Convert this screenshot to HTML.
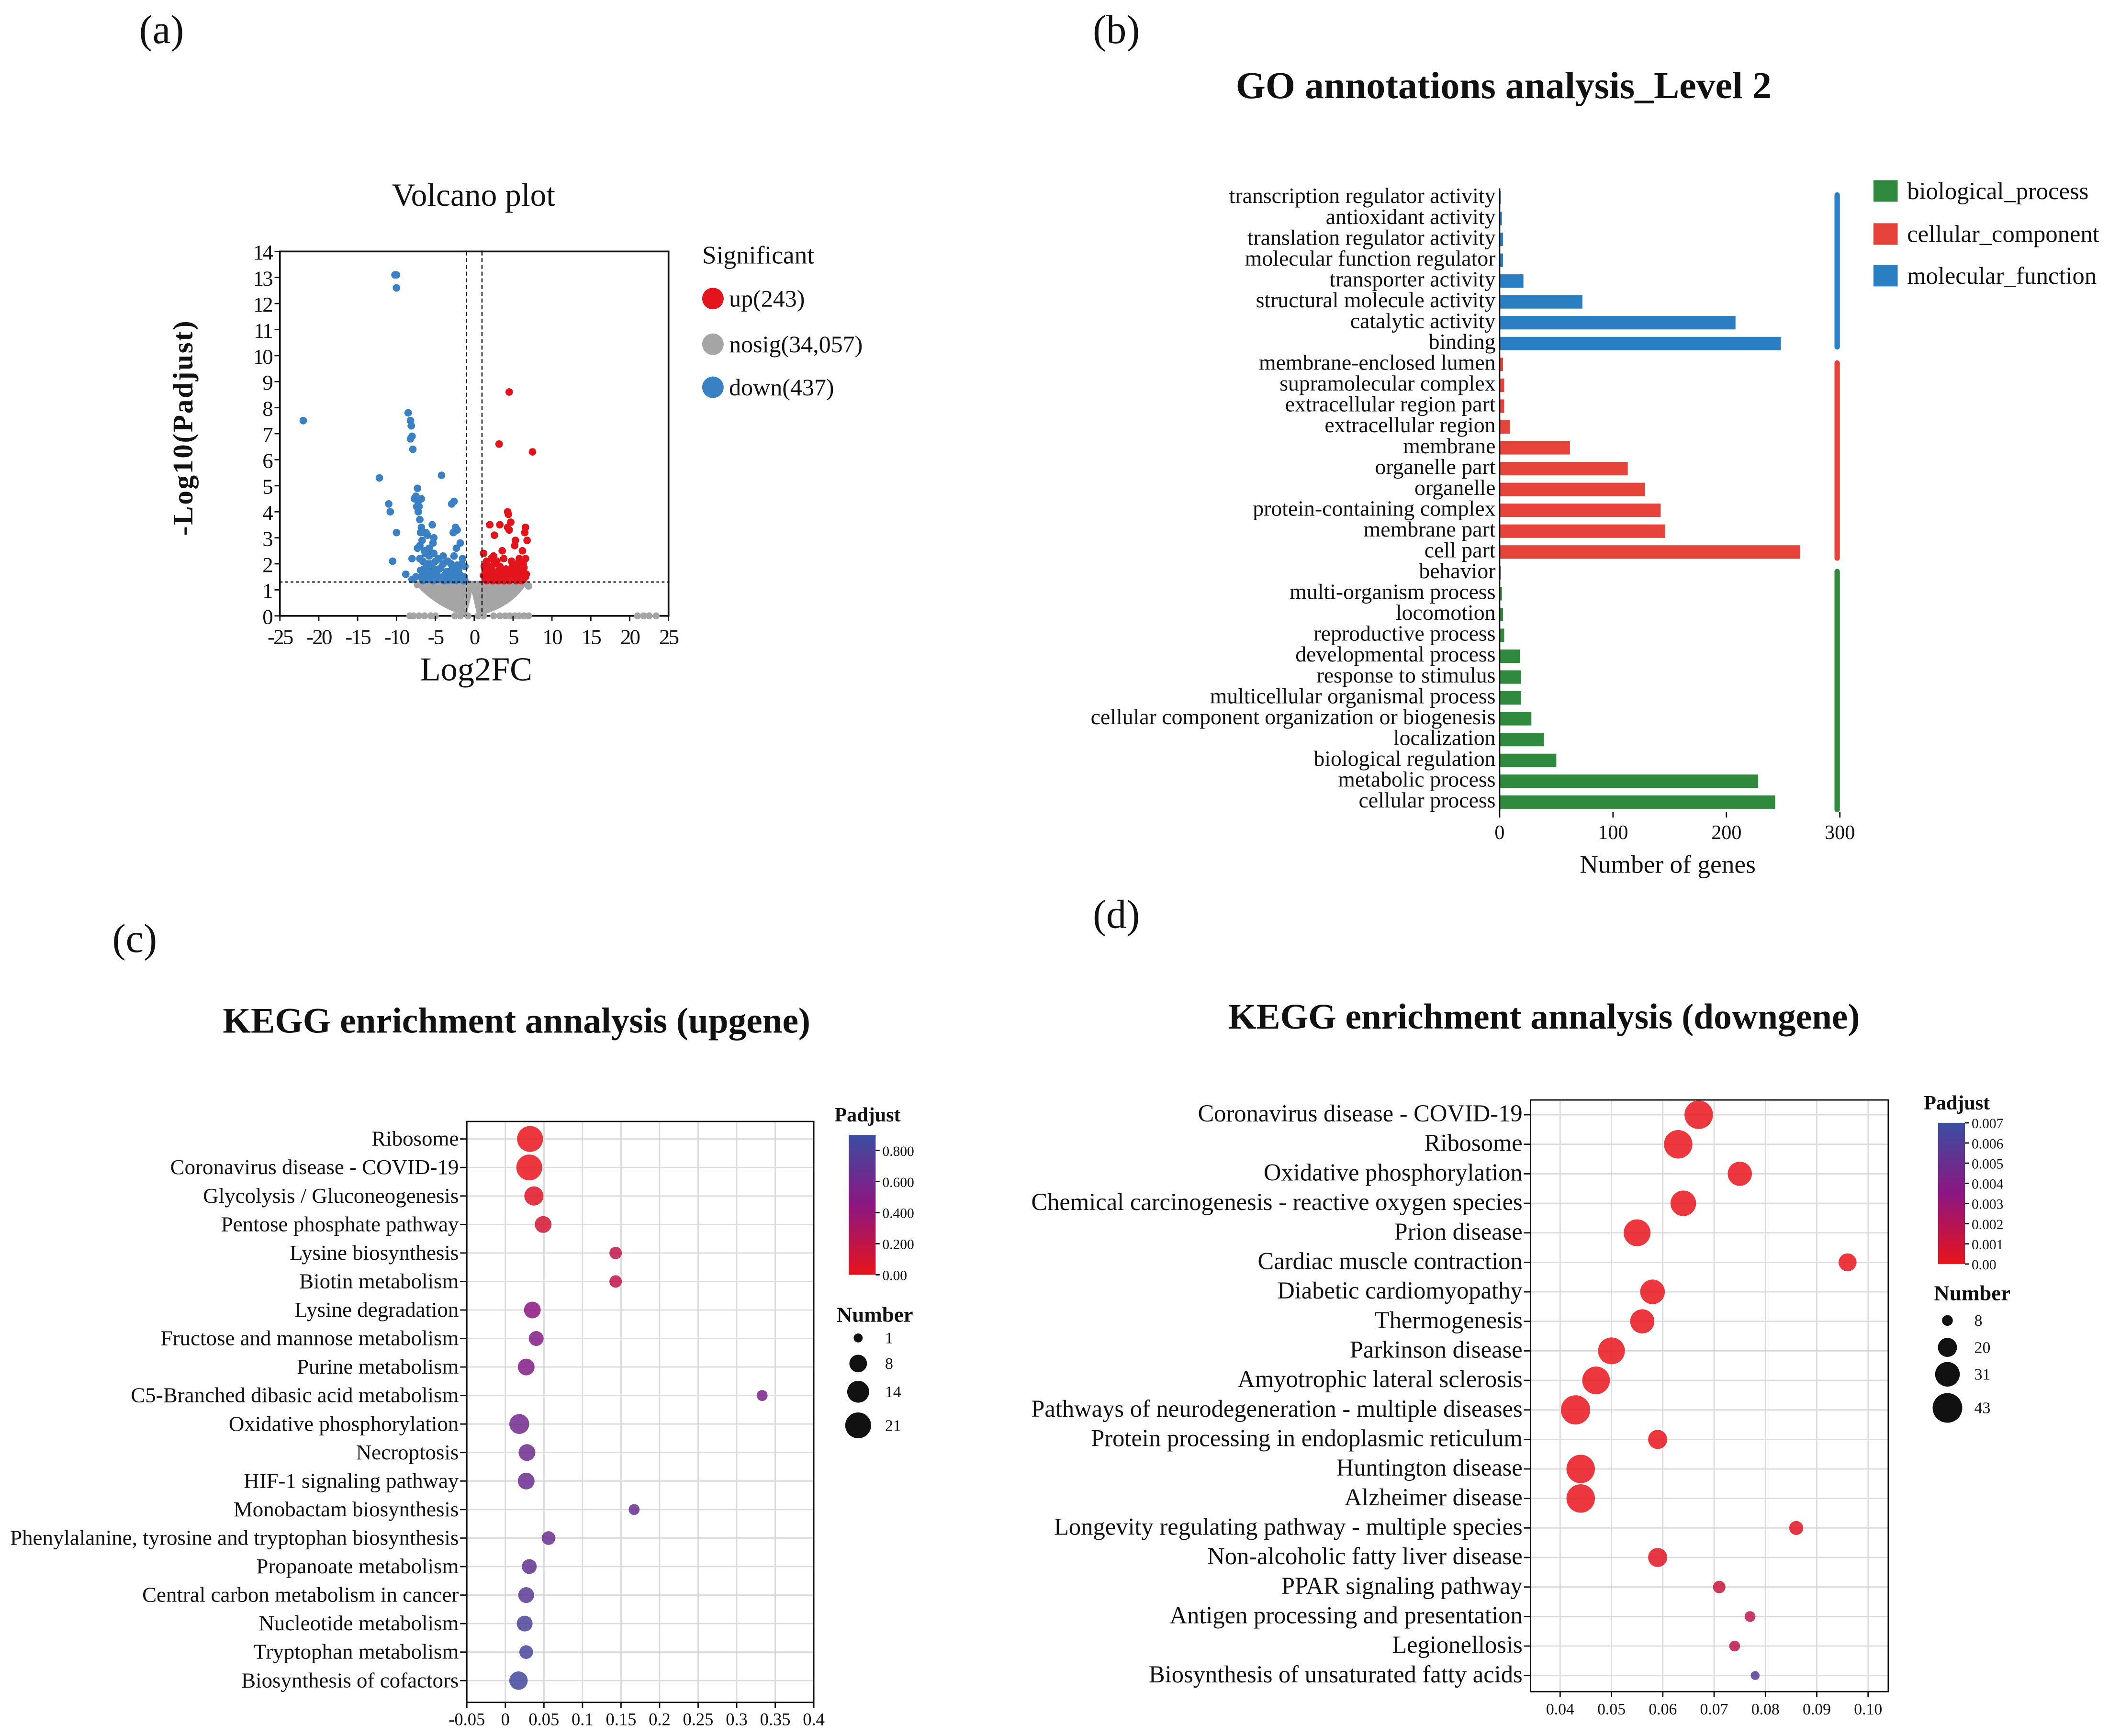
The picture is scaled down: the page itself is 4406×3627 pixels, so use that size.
<!DOCTYPE html>
<html><head><meta charset="utf-8"><style>
html,body{margin:0;padding:0;background:#fff;}
svg{display:block;}
text{font-family:"Liberation Serif",serif;fill:#111;}
</style></head><body>
<svg id="fig" width="4406" height="3627" viewBox="0 0 1568 1291" xmlns="http://www.w3.org/2000/svg">
<rect width="1568" height="1291" fill="#fff"/>
<text x="120" y="32" font-size="30" text-anchor="middle">(a)</text>
<text x="830" y="32" font-size="30" text-anchor="middle">(b)</text>
<text x="100" y="708" font-size="30" text-anchor="middle">(c)</text>
<text x="830" y="690" font-size="30" text-anchor="middle">(d)</text>
<g id="va"></g>
<g id="gb"></g>
<g id="kc"></g>
<g id="kd"></g>
</svg>
<script>
const NS="http://www.w3.org/2000/svg";
function mk(parent,tag,attrs,txt){const e=document.createElementNS(NS,tag);for(const k in attrs)e.setAttribute(k,attrs[k]);if(txt!==undefined)e.textContent=txt;parent.appendChild(e);return e;}

/* ---------- Volcano data ---------- */
const downX=[-10.2,-10,-10,-22,-8.5,-8.2,-8.1,-8,-8.2,-7.9,-12.2,-4.2,-7.3,-7.5,-7.7,-6.8,-7.2,-11,-10.8,-2.6,-2.9,-7.4,-7.1,-7.2,-7,-6.8,-5.4,-6.9,-6.5,-6.2,-6,-2.4,-2.7,-2.2,-10,-5.2,-6.7,-5.3,-7.3,-1.8,-5.8,-2.3,-6.3,-7,-2.6,-4,-10.5,-8,-6,-5,-3,-1.5,-1.2,-6.5,-5.5,-4.5,-3.5,-2,-7.5,-8.8,-8,-6.8,-6,-5,-4,-3,-2.2,-1.5,-7,-6.4,-5.8,-5.2,-4.6,-4,-3.4,-2.8,-2.2,-1.6,-6.6,-6.1,-5.6,-5.1,-4.3,-3.7,-3.1,-2.5,-1.9,-1.3,-6.9,-6.3,-5.5,-4.8,-4.2,-3.6,-2.9,-2.4,-1.7,-1.2,-6.6,-5.9,-5.3,-4.7,-3.9,-3.3,-2.6,-2.0,-1.4];
const downY=[13.1,13.1,12.6,7.5,7.8,7.5,7.3,6.9,6.8,6.4,5.3,5.4,4.9,4.6,4.5,4.5,4.4,4.3,4.0,4.4,4.3,4.2,4.2,4.0,3.7,3.4,3.5,3.2,3.2,3.2,3.1,3.4,3.2,3.3,3.2,3.0,2.9,2.8,2.6,2.8,2.6,2.6,2.4,2.2,2.3,2.3,2.1,2.2,2.0,2.1,2.0,2.2,1.9,1.8,1.7,1.8,1.7,1.8,1.5,1.6,1.4,1.5,1.4,1.45,1.5,1.45,1.5,1.4,2.7,2.5,2.3,2.4,2.2,2.0,2.1,1.9,1.95,2.0,2.1,1.9,2.0,1.8,1.85,1.6,1.7,1.65,1.6,1.5,1.75,1.65,1.55,1.6,1.45,1.55,1.4,1.35,1.45,1.35,1.35,1.4,1.35,1.4,1.35,1.38,1.36,1.4,1.35];
const upX=[4.5,3.2,7.5,4.3,4.4,4.7,2,3.3,4.3,6.6,2.6,4.5,6.5,5.3,6.8,5.2,1.2,3.6,6.2,2.5,5.8,6.6,1.6,2.2,2.9,3.8,4.8,5.5,6.3,1.3,1.9,2.6,3.3,4.1,4.9,5.6,6.4,1.5,2.3,3.0,3.7,4.4,5.2,5.9,6.7,1.2,1.8,2.5,3.2,3.9,4.6,5.3,6.0,6.6,1.4,2.1,2.8,3.5,4.2,5.0,5.7,6.3,1.6,2.4,3.1,3.8,4.5,5.4,6.1];
const upY=[8.6,6.6,6.3,4.0,3.9,3.6,3.5,3.5,3.4,3.4,3.1,3.3,3.2,2.9,2.9,2.7,2.4,2.5,2.5,2.3,2.2,2.2,2.1,2.2,2.1,2.2,2.1,2.0,2.0,1.9,1.9,2.0,1.9,1.8,1.9,1.8,1.85,1.7,1.75,1.7,1.7,1.7,1.7,1.65,1.6,1.55,1.6,1.55,1.6,1.55,1.5,1.55,1.5,1.5,1.4,1.45,1.4,1.45,1.4,1.45,1.4,1.4,1.35,1.35,1.35,1.35,1.35,1.35,1.35];
const zeroX=[-8.3,-7.8,-7.1,-6.4,-5.6,-5,-2.5,-1.8,-0.8,0.5,1.2,2.5,3.3,4,4.6,5.2,5.8,6.4,7,21,21.8,22.5,23.4];
const volXTicks=[-25,-20,-15,-10,-5,0,5,10,15,20,25];
const volYTicks=[0,1,2,3,4,5,6,7,8,9,10,11,12,13,14];

(function(){
const g=document.getElementById('va');
const X0=208,X1=497,Y0=458,Y1=187;
const sx=v=>X0+(v+25)*(X1-X0)/50, sy=v=>Y0-v*(Y0-Y1)/14;
let t=mk(g,'text',{x:352,y:153,'font-size':24,'text-anchor':'middle'},'Volcano plot');


let b=mk(g,'rect',{x:X0,y:Y1,width:X1-X0,height:Y0-Y1,fill:'none',stroke:'#111','stroke-width':1.3});


let cl=mk(g,'path',{d:`M${sx(-8)},${sy(1.35)} Q${sx(-5)},${sy(0.3)} ${sx(-1)},${sy(0)} L${sx(-0.3)},${sy(0.9)} L${sx(0.4)},${sy(0)} Q${sx(5)},${sy(0.3)} ${sx(7)},${sy(1.35)} Z`,fill:'#a5a5a5'});


zeroX.forEach(v=>{const c=mk(g,'circle',{cx:sx(v),cy:sy(0),r:2.6,fill:'#a5a5a5'});

});
[[-7.3,1.2],[7,1.15],[-6.5,1.3],[6.2,1.25]].forEach(p=>{const c=mk(g,'circle',{cx:sx(p[0]),cy:sy(p[1]),r:2.8,fill:'#a5a5a5'});

});
downX.forEach((v,i)=>{const c=mk(g,'circle',{cx:sx(v),cy:sy(downY[i]),r:2.8,fill:'#3a80c4'});

});
upX.forEach((v,i)=>{const c=mk(g,'circle',{cx:sx(v),cy:sy(upY[i]),r:2.8,fill:'#e3141c'});

});
let l1=mk(g,'line',{x1:X0,x2:X1,y1:sy(1.3),y2:sy(1.3),stroke:'#111','stroke-dasharray':'2,2','stroke-width':1});


[-1,1].forEach(v=>{const l=mk(g,'line',{x1:sx(v),x2:sx(v),y1:Y1,y2:Y0,stroke:'#111','stroke-dasharray':'3,2','stroke-width':0.9});

});
volXTicks.forEach(v=>{mk(g,'line',{x1:sx(v),x2:sx(v),y1:Y0,y2:Y0+4,stroke:'#111'});
const tt=mk(g,'text',{x:sx(v),y:Y0+21,'font-size':16,'text-anchor':'middle','letter-spacing':'-1'},String(v));

});
volYTicks.forEach(v=>{mk(g,'line',{x1:X0-4,x2:X0,y1:sy(v),y2:sy(v),stroke:'#111'});
const tt=mk(g,'text',{x:X0-6,y:sy(v)+6,'font-size':16,'text-anchor':'end','letter-spacing':'-1'},String(v));

});
let xt=mk(g,'text',{x:354,y:506,'font-size':25,'text-anchor':'middle'},'Log2FC');


let yt=mk(g,'text',{x:0,y:0,'font-size':21,'text-anchor':'middle','font-weight':'bold','letter-spacing':'1',transform:'translate(143,318) rotate(-90)'},'-Log10(Padjust)');


let lt=mk(g,'text',{x:522,y:196,'font-size':19},'Significant');


[['up(243)','#e3141c',222],['nosig(34,057)','#a5a5a5',256],['down(437)','#3a80c4',288]].forEach(e=>{
const c=mk(g,'circle',{cx:530,cy:e[2],r:8,fill:e[1]});


const tx=mk(g,'text',{x:542,y:e[2]+6,'font-size':17.8},e[0]);

});
})();

/* ---------- GO bar data ---------- */
const goTerms=["transcription regulator activity","antioxidant activity","translation regulator activity","molecular function regulator","transporter activity","structural molecule activity","catalytic activity","binding","membrane-enclosed lumen","supramolecular complex","extracellular region part","extracellular region","membrane","organelle part","organelle","protein-containing complex","membrane part","cell part","behavior","multi-organism process","locomotion","reproductive process","developmental process","response to stimulus","multicellular organismal process","cellular component organization or biogenesis","localization","biological regulation","metabolic process","cellular process"];
const goValues=[1,2,3,3,21,73,208,248,3,4,4,9,62,113,128,142,146,265,1,2,3,4,18,19,19,28,39,50,228,243];
const goGroups=["MF","MF","MF","MF","MF","MF","MF","MF","CC","CC","CC","CC","CC","CC","CC","CC","CC","CC","BP","BP","BP","BP","BP","BP","BP","BP","BP","BP","BP","BP"];
const goXTicks=[0,100,200,300];

(function(){
const g=document.getElementById('gb');
const col={MF:'#2a7fc2',CC:'#e5433a',BP:'#2f8a3e'};
const X0=1115,sx=v=>X0+v*(1368-1115)/300,sy=i=>147+i*15.5;
let t=mk(g,'text',{x:1118,y:73,'font-size':28.4,'font-weight':'bold','text-anchor':'middle'},'GO annotations analysis_Level 2');


goTerms.forEach((n,i)=>{
const r=mk(g,'rect',{x:X0,y:sy(i)-5,width:Math.max(0.8,sx(goValues[i])-X0),height:10,fill:col[goGroups[i]]});


const tx=mk(g,'text',{x:X0-3,y:sy(i)+4,'font-size':16.3,'text-anchor':'end'},n);

});
let ax=mk(g,'line',{x1:X0,x2:X0,y1:140,y2:604,stroke:'#111','stroke-width':1});


goXTicks.forEach(v=>{mk(g,'line',{x1:sx(v),x2:sx(v),y1:604,y2:608,stroke:'#111'});
const tt=mk(g,'text',{x:sx(v),y:624,'font-size':15,'text-anchor':'middle'},String(v));

});
let xt=mk(g,'text',{x:1240,y:649,'font-size':19,'text-anchor':'middle'},'Number of genes');


[['MF',143,260],['CC',268,417],['BP',423,604]].forEach(s=>{
const r=mk(g,'rect',{x:1364,y:s[1],width:4,height:s[2]-s[1],rx:2,fill:col[s[0]]});

});
[['biological_process','BP',142],['cellular_component','CC',174],['molecular_function','MF',205]].forEach(e=>{
const r=mk(g,'rect',{x:1393,y:e[2]-8,width:18,height:16,fill:col[e[1]]});


const tx=mk(g,'text',{x:1418,y:e[2]+6,'font-size':18},e[0]);

});
})();

/* ---------- KEGG up data ---------- */
const upTerms=["Ribosome","Coronavirus disease - COVID-19","Glycolysis / Gluconeogenesis","Pentose phosphate pathway","Lysine biosynthesis","Biotin metabolism","Lysine degradation","Fructose and mannose metabolism","Purine metabolism","C5-Branched dibasic acid metabolism","Oxidative phosphorylation","Necroptosis","HIF-1 signaling pathway","Monobactam biosynthesis","Phenylalanine, tyrosine and tryptophan biosynthesis","Propanoate metabolism","Central carbon metabolism in cancer","Nucleotide metabolism","Tryptophan metabolism","Biosynthesis of cofactors"];
const upRatio=[0.032,0.031,0.037,0.049,0.143,0.143,0.035,0.04,0.027,0.333,0.018,0.028,0.027,0.167,0.056,0.031,0.027,0.025,0.027,0.017];
const upNumber=[21,21,10,7,3,3,7,5,7,2,11,7,7,2,4,5,6,6,4,9];
const upPadj=[0.0,0.0,0.05,0.1,0.2,0.2,0.45,0.5,0.5,0.55,0.6,0.62,0.63,0.65,0.65,0.68,0.72,0.8,0.82,0.85];
const upXTicks=[-0.05,0,0.05,0.1,0.15,0.2,0.25,0.3,0.35,0.4];
const upCbarTicks=[0,0.2,0.4,0.6,0.8];
const upSizeLegend=[1,8,14,21];

/* ---------- KEGG down data ---------- */
const dnTerms=["Coronavirus disease - COVID-19","Ribosome","Oxidative phosphorylation","Chemical carcinogenesis - reactive oxygen species","Prion disease","Cardiac muscle contraction","Diabetic cardiomyopathy","Thermogenesis","Parkinson disease","Amyotrophic lateral sclerosis","Pathways of neurodegeneration - multiple diseases","Protein processing in endoplasmic reticulum","Huntington disease","Alzheimer disease","Longevity regulating pathway - multiple species","Non-alcoholic fatty liver disease","PPAR signaling pathway","Antigen processing and presentation","Legionellosis","Biosynthesis of unsaturated fatty acids"];
const dnRatio=[0.067,0.063,0.075,0.064,0.055,0.096,0.058,0.056,0.050,0.047,0.043,0.059,0.044,0.044,0.086,0.059,0.071,0.077,0.074,0.078];
const dnNumber=[40,40,30,33,36,18,31,30,36,38,42,20,40,40,12,20,10,8,8,6];
const dnPadj=[0,0,0,0,0,0,0,0,0,0,0,0,0,0,0.0003,0.0003,0.0012,0.0018,0.0018,0.0062];
const dnXTicks=[0.04,0.05,0.06,0.07,0.08,0.09,0.10];
const dnCbarTicks=[0,0.001,0.002,0.003,0.004,0.005,0.006,0.007];
const dnSizeLegend=[8,20,31,43];

function lerp(a,b,t){return Math.round(a+(b-a)*t);}
function pcol(t){t=Math.max(0,Math.min(1,t));const s=[[232,20,27],[140,22,130],[58,78,160]];
const k=t<0.5?0:1,u=t<0.5?t/0.5:(t-0.5)/0.5;const a=s[k],b=s[k+1];
return `rgb(${lerp(a[0],b[0],u)},${lerp(a[1],b[1],u)},${lerp(a[2],b[2],u)})`;}

function bubble(id,cfg,terms,ratio,num,padj,xticks,cticks,sizes){
const g=document.getElementById(id);
const sx=v=>cfg.X0+(v-cfg.xmin)*(cfg.X1-cfg.X0)/(cfg.xmax-cfg.xmin);
const sy=i=>cfg.yTop+i*cfg.step;
let t=mk(g,'text',{x:cfg.tx,y:cfg.ty,'font-size':26.8,'font-weight':'bold','text-anchor':'middle'},cfg.title);


xticks.forEach(v=>{const l=mk(g,'line',{x1:sx(v),x2:sx(v),y1:cfg.B0,y2:cfg.B1,stroke:'#dcdcdc','stroke-width':1});

});
terms.forEach((n,i)=>{const l=mk(g,'line',{x1:cfg.BX0,x2:cfg.BX1,y1:sy(i),y2:sy(i),stroke:'#dcdcdc','stroke-width':1});


mk(g,'line',{x1:cfg.BX0-5,x2:cfg.BX0,y1:sy(i),y2:sy(i),stroke:'#111'});
const tx=mk(g,'text',{x:cfg.BX0-6,y:sy(i)+5,'font-size':cfg.fs,'text-anchor':'end'},n);

});
let b=mk(g,'rect',{x:cfg.BX0,y:cfg.B0,width:cfg.BX1-cfg.BX0,height:cfg.B1-cfg.B0,fill:'none',stroke:'#111','stroke-width':1});


xticks.forEach(v=>{mk(g,'line',{x1:sx(v),x2:sx(v),y1:cfg.B1,y2:cfg.B1+4,stroke:'#111'});
const tt=mk(g,'text',{x:sx(v),y:cfg.B1+17,'font-size':cfg.tfs,'text-anchor':'middle'},cfg.fmt(v));

});
terms.forEach((n,i)=>{const c=mk(g,'circle',{cx:sx(ratio[i]),cy:sy(i),r:cfg.rad(num[i]),fill:pcol(padj[i]/cfg.pmax),'fill-opacity':0.85});

});
const gid=id+'grad';
const defs=mk(g,'defs',{});const lg=mk(defs,'linearGradient',{id:gid,x1:0,y1:1,x2:0,y2:0});
mk(lg,'stop',{offset:'0','stop-color':pcol(0)});mk(lg,'stop',{offset:'0.5','stop-color':pcol(0.5)});mk(lg,'stop',{offset:'1','stop-color':pcol(1)});
let cb=mk(g,'rect',{x:cfg.cbx,y:cfg.cby0,width:20,height:cfg.cby1-cfg.cby0,fill:`url(#${gid})`});


let ct=mk(g,'text',{x:cfg.cbx+14,y:cfg.cby0-10,'font-size':15,'font-weight':'bold','text-anchor':'middle'},'Padjust');


cticks.forEach(v=>{const y=cfg.cby1-(v/cfg.cmax)*(cfg.cby1-cfg.cby0);
mk(g,'line',{x1:cfg.cbx+20,x2:cfg.cbx+23,y1:y,y2:y,stroke:'#111'});
const tt=mk(g,'text',{x:cfg.cbx+25,y:y+4,'font-size':10.5},cfg.cfmt(v));

});
let nt=mk(g,'text',{x:cfg.nx,y:cfg.ny,'font-size':16,'font-weight':'bold'},'Number');


sizes.forEach((s,i)=>{const y=cfg.sy[i];
const c=mk(g,'circle',{cx:cfg.sx,cy:y,r:cfg.rad(s),fill:'#111'});


const tt=mk(g,'text',{x:cfg.sx+20,y:y+4,'font-size':12},String(s));

});
}

bubble('kc',{title:'KEGG enrichment annalysis (upgene)',tx:384,ty:768,X0:347,X1:605,xmin:-0.05,xmax:0.4,BX0:347,BX1:605,B0:834,B1:1266,yTop:847,step:21.2,fs:16,tfs:13,
rad:n=>1.6+Math.sqrt(n)*1.75,pmax:0.9,fmt:v=>String(Math.round(v*100)/100),
cbx:631,cby0:844,cby1:948,cmax:0.9,cfmt:v=>v===0?'0.00':v.toFixed(3),nx:622,ny:983,sx:638,sy:[995,1014,1035,1060]},
upTerms,upRatio,upNumber,upPadj,upXTicks,upCbarTicks,upSizeLegend);

bubble('kd',{title:'KEGG enrichment annalysis (downgene)',tx:1148,ty:765,X0:1160,X1:1389,xmin:0.04,xmax:0.10,BX0:1138,BX1:1404,B0:818,B1:1258,yTop:829,step:21.95,fs:18,tfs:12,
rad:n=>Math.max(2.5,1.88*Math.sqrt(n)-1.3),pmax:0.0075,fmt:v=>v.toFixed(2),
cbx:1441,cby0:835,cby1:940,cmax:0.007,cfmt:v=>v===0?'0.00':v.toFixed(3),nx:1438,ny:967,sx:1448,sy:[982,1002,1022,1047]},
dnTerms,dnRatio,dnNumber,dnPadj,dnXTicks,dnCbarTicks,dnSizeLegend);
</script>
</body></html>
